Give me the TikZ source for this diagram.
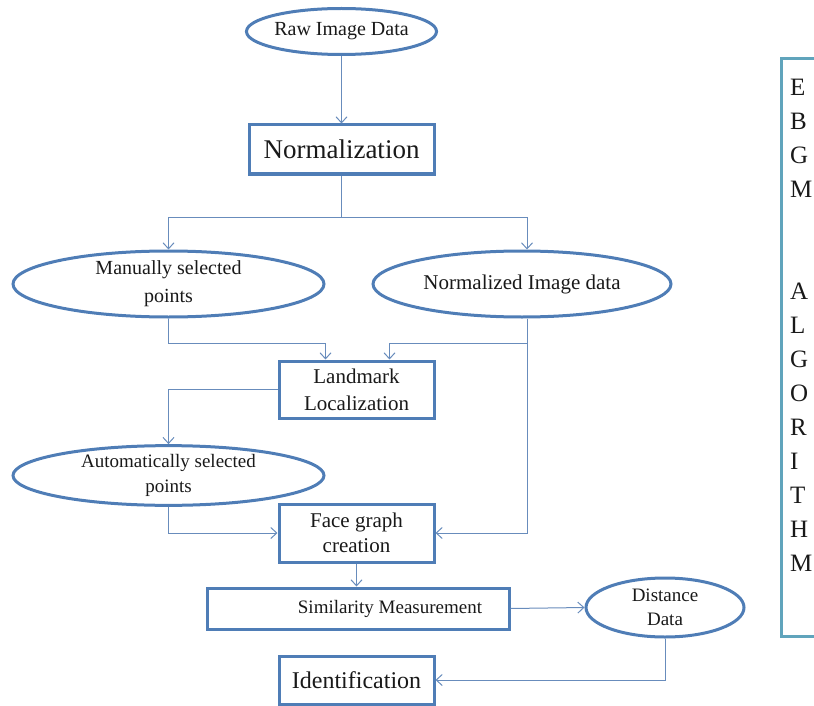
\documentclass[tikz,border=0pt]{standalone}
\usepackage{fontspec}
\setmainfont{Liberation Serif}
\usetikzlibrary{arrows.meta,calc,shapes.geometric}
\definecolor{boxblue}{RGB}{79,125,182}
\definecolor{lineblue}{RGB}{104,140,188}
\definecolor{algoteal}{RGB}{96,164,188}
\tikzset{>={Straight Barb[length=6pt,width=11pt]}}
\tikzstyle{process}=[rectangle,draw=boxblue,line width=3pt,inner sep=0pt,align=center,text=black!90]
\tikzstyle{datanode}=[ellipse,draw=boxblue,line width=3pt,inner sep=0pt,align=center,text=black!90]
\tikzstyle{flow}=[draw=lineblue,line width=1pt,->]
\tikzstyle{algframe}=[rectangle,draw=algoteal,line width=3pt,inner sep=0pt]

\begin{document}
\begin{tikzpicture}[x=1pt,y=-1pt]
	\useasboundingbox (0,0) rectangle (814,706);
	\node[datanode, minimum width=185, minimum height=46, font=\fontsize{20}{24}\selectfont] (raw) at (341.5, 31.5) {Raw Image Data};
	\node[process, minimum width=185, minimum height=49, font=\fontsize{27}{30}\selectfont] (norm) at (341.5, 149.5) {Normalization};
	\node[datanode, minimum width=311, minimum height=66, font=\fontsize{20}{28}\selectfont] (manual) at (168.5, 284) {Manually selected\\points};
	\node[datanode, minimum width=298, minimum height=66, font=\fontsize{21}{26}\selectfont] (normimg) at (522, 284) {Normalized Image data};
	\node[process, minimum width=155, minimum height=57, font=\fontsize{21}{27}\selectfont] (landmark) at (356.5, 389.5) {Landmark\\Localization};
	\node[datanode, minimum width=311, minimum height=59, font=\fontsize{19}{25}\selectfont] (autopts) at (168.5, 475.5) {Automatically selected\\points};
	\node[process, minimum width=155, minimum height=58, font=\fontsize{21}{25}\selectfont] (face) at (356.5, 533) {Face graph\\creation};
	\node[process, minimum width=302, minimum height=41, font=\fontsize{19}{22}\selectfont] (simil) at (358, 608.5) {\hspace*{64pt}Similarity Measurement};
	\node[datanode, minimum width=158, minimum height=59, font=\fontsize{19}{24}\selectfont] (dist) at (665, 607.5) {Distance\\Data};
	\node[process, minimum width=155, minimum height=48, font=\fontsize{24}{28}\selectfont] (ident) at (356.5, 680) {Identification};
	
	% EBGM algorithm frame
	\node[algframe, minimum width=70, minimum height=578, anchor=north west] (algo) at (780, 57) {};
	\node[anchor=north west, inner sep=0pt, align=left, text=black!90, font=\fontsize{25}{34}\selectfont] (algotext) at (790, 79) {E\\B\\G\\M\\[68pt]A\\L\\G\\O\\R\\I\\T\\H\\M};
	
	\coordinate (split) at ($(norm.south)+(0,42)$);
	\draw[flow] (raw) -- (norm);
	\draw[flow, -] (norm.south) -- (split);
	\draw[flow] (split) -| (manual.north);
	\draw[flow] (split) -| ([xshift=5pt]normimg.north);
	\draw[flow] (manual.south) -- ++(0,25) -| ([xshift=-31pt]landmark.north);
	\draw[flow] ([xshift=5pt]normimg.south) -- ++(0,25) -| ([xshift=33pt]landmark.north);
	\draw[flow] ([xshift=5pt]normimg.south) |- (face.east);
	\draw[flow] (landmark.west) -| (autopts.north);
	\draw[flow] (autopts.south) |- (face.west);
	\draw[flow] (face.south) -- (face.south |- simil.north);
	\draw[flow] (simil.east) -- (dist.west);
	\draw[flow] (dist.south) |- (ident.east);
\end{tikzpicture}
\end{document}
